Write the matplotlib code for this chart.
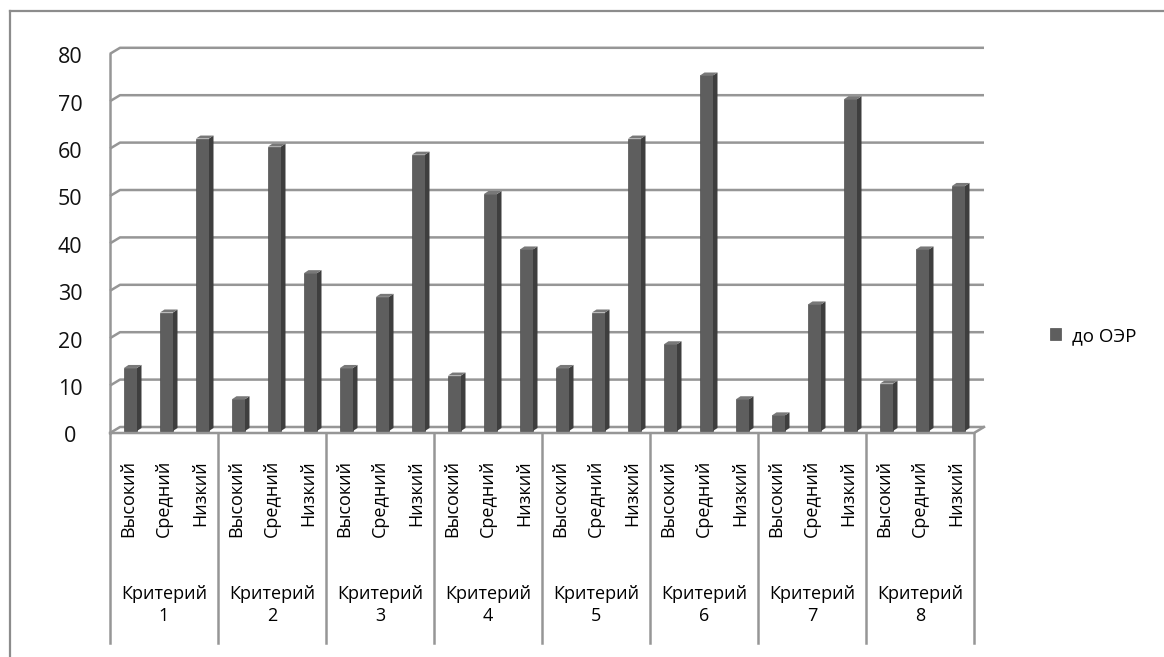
import matplotlib
matplotlib.use("Agg")
import matplotlib.pyplot as plt
from matplotlib.patches import Polygon
from matplotlib.lines import Line2D
import matplotlib.transforms as mtransforms

plt.rcParams['font.family'] = ['Open Sans', 'DejaVu Sans']

# данные: доля учащихся (%) по уровням для каждого критерия
criteria = ["Критерий\n1", "Критерий\n2", "Критерий\n3", "Критерий\n4",
            "Критерий\n5", "Критерий\n6", "Критерий\n7", "Критерий\n8"]
levels = ["Высокий", "Средний", "Низкий"]
high = [13.3, 6.7, 13.3, 11.7, 13.3, 18.3, 3.3, 10.0]
mid = [25.0, 60.0, 28.3, 50.0, 25.0, 75.0, 26.7, 38.3]
low = [61.7, 33.3, 58.3, 38.3, 61.7, 6.7, 70.0, 51.7]
yticks = [0, 10, 20, 30, 40, 50, 60, 70, 80]
series_name = "до ОЭР"

values = []
for h, m, l in zip(high, mid, low):
    values += [h, m, l]

W, H = 1164, 657
fig = plt.figure(figsize=(W / 100, H / 100), dpi=100)

# одна позиция по x = 36 px, одна единица по y = 4.74 px
slot_px = 36.0
unit_px = 4.74
x0_px, y0_px = 110, 433
xmax = 24.5
ymax = 81.5
ax = fig.add_axes([x0_px / W, (H - y0_px) / H, xmax * slot_px / W, ymax * unit_px / H])
ax.set_xlim(0, xmax)
ax.set_ylim(0, ymax)
ax.axis("off")

grid_c = "#969696"
DX = 10 / slot_px      # глубина задней стенки
DY = 6 / unit_px
n = len(values)

# сетка на задней стенке + диагонали к передней оси
for v in yticks:
    ax.plot([0, DX, n + DX], [v, v + DY, v + DY], color=grid_c, lw=1.8,
            clip_on=False, zorder=1, solid_capstyle="butt")
# передняя вертикальная ось и пол
ax.plot([0, 0], [0, yticks[-1]], color=grid_c, lw=1.8, clip_on=False, zorder=1)
ax.plot([0, n, n + DX], [0, 0, DY], color=grid_c, lw=1.8, clip_on=False, zorder=3)

# разделители категорий
sep_bottom = -(643 - y0_px) / unit_px
for k in range(len(criteria) + 1):
    ax.plot([3 * k, 3 * k], [0, sep_bottom], color=grid_c, lw=1.8,
            clip_on=False, zorder=1)

# столбцы с имитацией объёма
bw = 13 / slot_px
off = 14 / slot_px
base = 2 / unit_px
sx = 4.5 / slot_px
sy = 3 / unit_px
face_c, side_c, top_c = "#5e5e5e", "#3e3e3e", "#787878"
xs = [i + off for i in range(n)]
bars = ax.bar(xs, values, width=bw, bottom=base, align="edge", color=face_c,
              edgecolor="#505050", linewidth=0.5, zorder=4, label=series_name)
for x, v in zip(xs, values):
    top = base + v
    ax.add_patch(Polygon([(x + bw, base), (x + bw + sx, base + sy),
                          (x + bw + sx, top + sy), (x + bw, top)],
                         closed=True, facecolor=side_c, edgecolor="none", zorder=4))
    ax.add_patch(Polygon([(x, top), (x + sx, top + sy),
                          (x + bw + sx, top + sy), (x + bw, top)],
                         closed=True, facecolor=top_c, edgecolor="none", zorder=4))

# подписи оси y
ylab_x = (70 - x0_px) / slot_px
shift = mtransforms.ScaledTranslation(0, -4 / 100, fig.dpi_scale_trans)
for v in yticks:
    ax.text(ylab_x, v, str(v), ha="center", va="center", fontsize=15.5,
            color="#111111", transform=ax.transData + shift, clip_on=False)

# подписи уровней и критериев
lvl_y = -(460 - y0_px) / unit_px
for i in range(n):
    ax.text(i + 0.5, lvl_y, levels[i % 3], rotation=90, ha="center", va="top",
            fontsize=13, color="black", clip_on=False)
crit_y = -(605 - y0_px) / unit_px
for k, name in enumerate(criteria):
    ax.text(3 * k + 1.5, crit_y, name, ha="center", va="center", fontsize=13,
            linespacing=1.35, color="black", clip_on=False)

ax.legend(handles=[bars], loc="center left",
          bbox_to_anchor=(1050 / W, 1 - 336 / H), bbox_transform=fig.transFigure,
          frameon=False, fontsize=13.5, handlelength=0.6, handleheight=0.6,
          handletextpad=0.6, borderpad=0, borderaxespad=0)

# рамка области диаграммы
fig.add_artist(Line2D([10 / W, 1], [1 - 11 / H, 1 - 11 / H], color="#8c8c8c",
                      lw=1.6, transform=fig.transFigure))
fig.add_artist(Line2D([10 / W, 10 / W], [0, 1 - 11 / H], color="#8c8c8c",
                      lw=1.6, transform=fig.transFigure))

fig.savefig("out.png", dpi=100)
